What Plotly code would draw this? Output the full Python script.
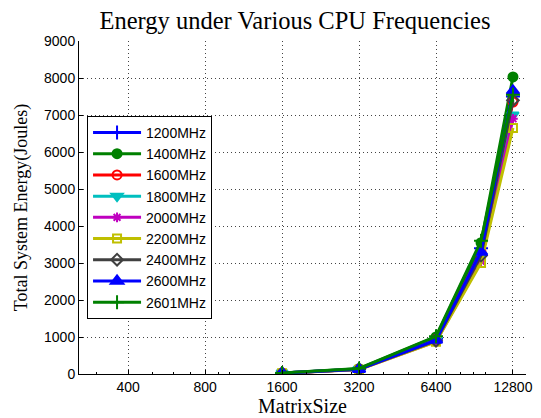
import plotly.graph_objects as go
import math

matrix_sizes = [1600, 3200, 6400, 9600, 12800]
series_names = ["1200MHz", "1400MHz", "1600MHz", "1800MHz", "2000MHz",
                "2200MHz", "2400MHz", "2600MHz", "2601MHz"]
energy = {
    "1200MHz": [25, 135, 950, 3400, 7500],
    "1400MHz": [28, 145, 1000, 3550, 8030],
    "1600MHz": [24, 130, 930, 3300, 7350],
    "1800MHz": [24, 128, 920, 3200, 7000],
    "2000MHz": [22, 120, 880, 3050, 6900],
    "2200MHz": [22, 118, 870, 3000, 6650],
    "2400MHz": [23, 125, 900, 3200, 7400],
    "2600MHz": [24, 130, 920, 3300, 7650],
    "2601MHz": [28, 150, 1020, 3600, 7550],
}
x_ticks = [400, 800, 1600, 3200, 6400, 12800]
y_ticks = [0, 1000, 2000, 3000, 4000, 5000, 6000, 7000, 8000, 9000]

colors = ["#0000FF", "#008000", "#FF0000", "#00BFBF", "#BF00BF",
          "#BFBF00", "#404040", "#0000FF", "#008000"]
symbols = ["cross-thin-open", "circle", "circle-open", "triangle-down",
           "asterisk-open", "square-open", "diamond-open", "triangle-up",
           "cross-thin-open"]
sizes = [10, 9, 9, 10, 8, 8, 9, 11, 10]

fig = go.Figure()
for name, c, s, sz in zip(series_names, colors, symbols, sizes):
    fig.add_trace(go.Scatter(
        x=matrix_sizes, y=energy[name], name=name, mode="lines+markers",
        line=dict(color=c, width=3),
        marker=dict(symbol=s, size=sz, color=c, line=dict(color=c, width=2)),
    ))

minor_vals = [300, 400, 500, 600, 700, 800, 900] + [1000 * k for k in range(1, 10)] + [10000]

# page body has an 8px margin, so the figure is sized/offset to compensate
fig.update_layout(
    width=533, height=410,
    margin=dict(l=71, r=15, t=33, b=44, autoexpand=False),
    paper_bgcolor="white", plot_bgcolor="white",
    title=dict(text="Energy under Various CPU Frequencies", x=0.5385, xref="container",
               xanchor="center", y=0.97, yref="container", yanchor="middle",
               font=dict(family="Liberation Serif", size=24.5, color="black")),
    font=dict(family="Liberation Sans", size=14, color="black"),
    showlegend=True,
    legend=dict(x=0.018, y=0.775, xanchor="left", yanchor="top",
                bgcolor="white", bordercolor="black", borderwidth=1,
                font=dict(family="Liberation Sans", size=14, color="black"),
                tracegroupgap=0, itemwidth=48),
)
grid_dash = "1px,3px"
fig.update_xaxes(
    type="log", range=[math.log10(257), math.log10(14394)],
    tickvals=x_ticks, ticktext=[str(v) for v in x_ticks],
    ticks="inside", ticklen=4, tickcolor="black",
    showline=True, linecolor="black", linewidth=1, mirror=False,
    showgrid=True, gridcolor="#444444", griddash=grid_dash, gridwidth=1,
    zeroline=False, automargin=False,
    minor=dict(tickvals=minor_vals, ticks="inside", ticklen=2, tickcolor="black", showgrid=False),
    tickfont=dict(family="Liberation Sans", size=14, color="black"),
    title=dict(text="MatrixSize", font=dict(family="Liberation Serif", size=20, color="black"),
               standoff=0),
)
fig.update_yaxes(
    range=[0, 9000], tickvals=y_ticks,
    ticks="inside", ticklen=4, tickcolor="black",
    showline=True, linecolor="black", linewidth=1, mirror=False,
    showgrid=True, gridcolor="#444444", griddash=grid_dash, gridwidth=1,
    zeroline=False, automargin=False,
    tickfont=dict(family="Liberation Sans", size=14, color="black"),
    title=dict(text="Total System Energy(Joules)",
               font=dict(family="Liberation Serif", size=18, color="black"), standoff=11),
)

fig.write_html("out.html")
